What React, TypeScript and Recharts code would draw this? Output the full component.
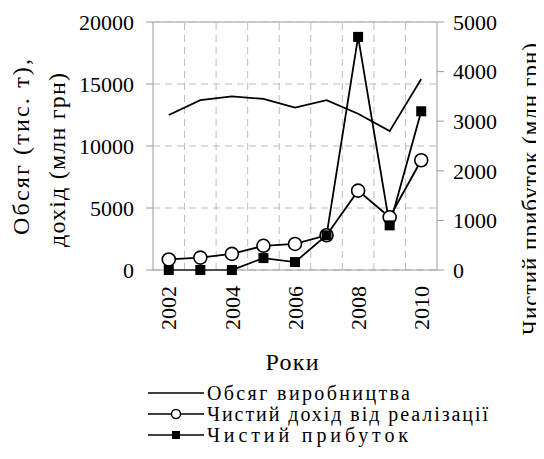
import React from 'react';
import {
    LineChart, Line, XAxis, YAxis, CartesianGrid, ReferenceLine
} from 'recharts';

const years = [2002, 2003, 2004, 2005, 2006, 2007, 2008, 2009, 2010];
const production = [12500, 13700, 14000, 13800, 13100, 13700, 12600, 11200, 15400];
const revenue = [850, 1000, 1300, 1950, 2100, 2800, 6400, 4250, 8850];
const profit = [0, 0, 0, 240, 160, 700, 4700, 900, 3200];

const yearTicks = [2002, 2004, 2006, 2008, 2010];
const leftTicks = [0, 5000, 10000, 15000, 20000];
const rightTicks = [0, 1000, 2000, 3000, 4000, 5000];

const seriesNames = ['Обсяг виробництва', 'Чистий дохід від реалізації', 'Чистий прибуток'];
const leftTitle = ['Обсяг (тис. т),', 'дохід (млн грн)'];
const rightTitle = 'Чистий прибуток (млн грн)';
const xTitle = 'Роки';

// the source figure uses a loosely spaced serif, so texts are spread to its widths
const legendTextWidths = [203, 281, 201];

const FONT = "'Liberation Serif', serif";
const FS = 22;
const GRID = '#bdbdbd';
const AXIS = '#9a9a9a';

const data = years.map((year, i) => ({
    year,
    production: production[i],
    revenue: revenue[i],
    profit: profit[i],
}));

// band boundaries between years, used for the dashed vertical grid
const boundaries = years.slice(1).map(y => y - 0.5);

const YearTick = (props: any) => {
    const { x, y, payload } = props;
    return (
        <text
            x={x}
            y={y + 8}
            transform={`rotate(-90, ${x}, ${y + 8})`}
            textAnchor="end"
            dy="0.35em"
            fontFamily={FONT}
            fontSize={FS}
            fill="#000"
        >
            {payload.value}
        </text>
    );
};

const CircleDot = (props: any) => {
    const { cx, cy, index } = props;
    return <circle key={`c-${index}`} cx={cx} cy={cy} r={6.5} fill="#fff" stroke="#000" strokeWidth={1.6} />;
};

const SquareDot = (props: any) => {
    const { cx, cy, index } = props;
    return <rect key={`s-${index}`} x={cx - 5} y={cy - 5} width={10} height={10} fill="#000" />;
};

const VTitle = ({ x, y, text, size, len }: { x: number; y: number; text: string; size: number; len?: number }) => (
    <text
        x={x}
        y={y}
        transform={`rotate(-90, ${x}, ${y})`}
        textAnchor="middle"
        dominantBaseline="central"
        fontFamily={FONT}
        fontSize={size}
        fill="#000"
        textLength={len}
        lengthAdjust="spacing"
    >
        {text}
    </text>
);

const LegendRow = ({ y, kind, name, len }: { y: number; kind: number; name: string; len: number }) => (
    <g>
        <line x1={140} y1={y} x2={196} y2={y} stroke="#000" strokeWidth={1.6} />
        {kind === 1 && <circle cx={168} cy={y} r={4.5} fill="#fff" stroke="#000" strokeWidth={1.4} />}
        {kind === 2 && <rect x={164} y={y - 4} width={8} height={8} fill="#000" />}
        <text
            x={199}
            y={y}
            dominantBaseline="central"
            fontFamily={FONT}
            fontSize={20}
            fill="#000"
            textLength={len}
            lengthAdjust="spacing"
        >
            {name}
        </text>
    </g>
);

export default function App() {
    return (
        <div style={{ position: 'relative', width: 536, height: 451, fontFamily: FONT }}>
            <LineChart
                width={536}
                height={451}
                data={data}
                margin={{ top: 14, right: 47, left: 85, bottom: 129 }}
            >
                <CartesianGrid
                    yAxisId="left"
                    vertical={false}
                    stroke={GRID}
                    strokeDasharray="7 5"
                />
                {boundaries.map(b => (
                    <ReferenceLine key={b} yAxisId="left" x={b} stroke={GRID} strokeDasharray="7 5" />
                ))}
                <ReferenceLine yAxisId="left" y={20000} stroke={GRID} strokeWidth={1.5} />
                <XAxis
                    dataKey="year"
                    type="number"
                    domain={[2001.5, 2010.5]}
                    ticks={yearTicks}
                    interval={0}
                    height={60}
                    tick={<YearTick />}
                    tickLine={false}
                    axisLine={{ stroke: AXIS }}
                />
                <YAxis
                    yAxisId="left"
                    domain={[0, 20000]}
                    ticks={leftTicks}
                    width={60}
                    tickSize={7}
                    tickMargin={12}
                    tickLine={{ stroke: AXIS }}
                    axisLine={{ stroke: AXIS }}
                    tick={{ fontFamily: FONT, fontSize: FS, fill: '#000' }}
                />
                <YAxis
                    yAxisId="right"
                    orientation="right"
                    domain={[0, 5000]}
                    ticks={rightTicks}
                    width={60}
                    tickSize={7}
                    tickMargin={9}
                    tickLine={{ stroke: AXIS }}
                    axisLine={{ stroke: AXIS }}
                    tick={{ fontFamily: FONT, fontSize: FS, fill: '#000', textAnchor: 'start' }}
                />
                <Line
                    yAxisId="left"
                    dataKey="revenue"
                    name={seriesNames[1]}
                    stroke="#000"
                    strokeWidth={1.8}
                    dot={<CircleDot />}
                    isAnimationActive={false}
                />
                <Line
                    yAxisId="right"
                    dataKey="profit"
                    name={seriesNames[2]}
                    stroke="#000"
                    strokeWidth={1.8}
                    dot={<SquareDot />}
                    isAnimationActive={false}
                />
                <Line
                    yAxisId="left"
                    dataKey="production"
                    name={seriesNames[0]}
                    stroke="#000"
                    strokeWidth={1.8}
                    dot={false}
                    isAnimationActive={false}
                />
            </LineChart>
            <svg
                width={536}
                height={451}
                style={{ position: 'absolute', left: 0, top: 0, pointerEvents: 'none' }}
            >
                <VTitle x={13} y={139} text={leftTitle[0]} size={24} len={176} />
                <VTitle x={49} y={152} text={leftTitle[1]} size={24} len={174} />
                <VTitle x={522} y={181} text={rightTitle} size={23} len={292} />
                <text x={284} y={354} textAnchor="middle" dominantBaseline="central" fontFamily={FONT} fontSize={24} fill="#000" textLength={53} lengthAdjust="spacing">
                    {xTitle}
                </text>
                {seriesNames.map((name, i) => (
                    <LegendRow key={name} y={385 + i * 21} kind={i} name={name} len={legendTextWidths[i]} />
                ))}
            </svg>
        </div>
    );
}
